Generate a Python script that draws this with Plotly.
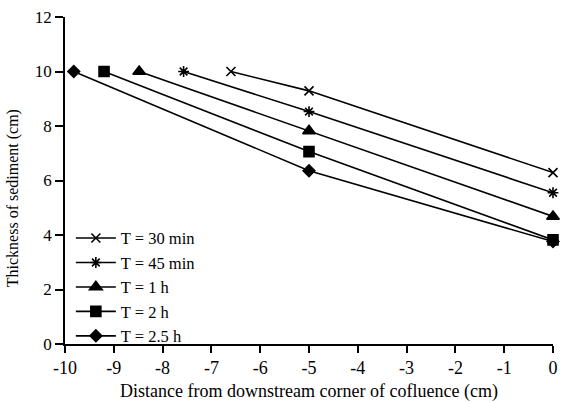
import plotly.graph_objects as go

series_names = ["T = 30 min", "T = 45 min", "T = 1 h", "T = 2 h", "T = 2.5 h"]
x_30min = [-6.6, -5, 0]
y_30min = [10.0, 9.29, 6.29]
x_45min = [-7.57, -5, 0]
y_45min = [10.0, 8.53, 5.55]
x_1h = [-8.48, -5, 0]
y_1h = [10.0, 7.82, 4.68]
x_2h = [-9.2, -5, 0]
y_2h = [10.0, 7.06, 3.82]
x_25h = [-9.82, -5, 0]
y_25h = [10.0, 6.36, 3.76]

x_tick_vals = [-10, -9, -8, -7, -6, -5, -4, -3, -2, -1, 0]
x_tick_text = ["-10", "-9", "-8", "-7", "-6", "-5", "-4", "-3", "-2", "-1", "0"]
y_tick_vals = [0, 2, 4, 6, 8, 10, 12]
y_tick_text = ["0", "2", "4", "6", "8", "10", "12"]

x_title = "Distance from downstream corner of cofluence (cm)"
y_title = "Thickness of sediment (cm)"

xs = [x_30min, x_45min, x_1h, x_2h, x_25h]
ys = [y_30min, y_45min, y_1h, y_2h, y_25h]
symbols = ["x-thin", "asterisk", "triangle-up", "square", "diamond"]
sizes = [9, 9, 11, 10, 9]

fig = go.Figure()
for name, x, y, s, sz in zip(series_names, xs, ys, symbols, sizes):
    fig.add_trace(go.Scatter(
        x=x, y=y, name=name, mode="lines+markers",
        line=dict(color="black", width=1.6),
        marker=dict(symbol=s, size=sz, color="black",
                    line=dict(color="black", width=1.6)),
        cliponaxis=False,
    ))

fam = "Liberation Serif, Times New Roman, Times, serif"
fig.update_layout(
    width=561, height=402,
    margin=dict(l=65, r=8, t=17, b=58, autoexpand=False),
    plot_bgcolor="white", paper_bgcolor="white",
    font=dict(family=fam, size=16, color="black"),
    showlegend=True,
    legend=dict(x=0.012, y=-0.03, xanchor="left", yanchor="bottom",
                bgcolor="rgba(0,0,0,0)",
                font=dict(family=fam, size=16.5, color="black"),
                tracegroupgap=0, itemwidth=40),
    xaxis=dict(range=[-10, 0], tickvals=x_tick_vals, ticktext=x_tick_text,
               showgrid=False, zeroline=False, automargin=False,
               showline=True, linecolor="black", linewidth=1.5,
               ticks="outside", ticklen=7, tickwidth=1.5, tickcolor="black",
               tickfont=dict(family=fam, size=18, color="black"),
               title=dict(text=x_title,
                          font=dict(family=fam, size=18, color="black"), standoff=8)),
    yaxis=dict(range=[0, 12], tickvals=y_tick_vals, ticktext=y_tick_text,
               showgrid=False, zeroline=False, automargin=False,
               showline=True, linecolor="black", linewidth=1.5,
               ticks="outside", ticklen=8, tickwidth=1.5, tickcolor="black",
               tickfont=dict(family=fam, size=17, color="black")),
    annotations=[dict(text=y_title, xref="paper", yref="paper",
                      x=-0.105, y=0.445, xanchor="center", yanchor="middle",
                      textangle=-90, showarrow=False,
                      font=dict(family=fam, size=16, color="black"))],
)
fig.write_html("out.html")
